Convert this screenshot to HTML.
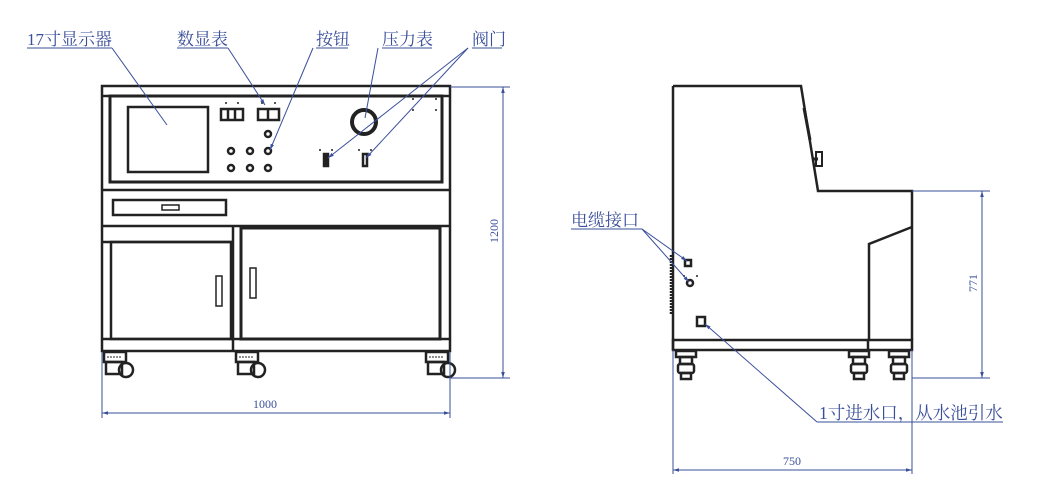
<!DOCTYPE html>
<html><head><meta charset="utf-8"><style>
html,body{margin:0;padding:0;background:#fff;}
svg{display:block;}
text{font-family:"Liberation Serif","Noto Serif CJK SC",serif;fill:#3a4f9a;}
</style></head><body>
<svg width="1045" height="504" viewBox="0 0 1045 504" xmlns="http://www.w3.org/2000/svg">
<defs>
<marker id="a" viewBox="0 0 10 10" refX="10" refY="5" markerWidth="6" markerHeight="6" orient="auto-start-reverse"><path d="M0,2 L10,5 L0,8 z" fill="#3a4f9a"/></marker>
</defs>
<g fill="none" stroke="#222" stroke-width="2.5">
<rect x="102" y="86" width="348" height="265"/>
<line x1="102" y1="96" x2="450" y2="96"/>
<rect x="110" y="96" width="332" height="86" stroke-width="3"/>
<line x1="102" y1="190" x2="450" y2="190"/>
<rect x="113" y="200" width="113" height="15"/>
<rect x="162" y="205" width="17" height="5" stroke-width="1.5"/>
<line x1="102" y1="226" x2="450" y2="226"/>
<line x1="102" y1="242" x2="232" y2="242"/>
<rect x="111" y="242" width="120" height="97"/>
<line x1="233" y1="226" x2="233" y2="351"/>
<rect x="241" y="228" width="199" height="111" stroke-width="3"/>
<line x1="102" y1="339" x2="450" y2="339"/>
<rect x="216" y="276" width="6" height="30" stroke-width="1.5"/>
<rect x="250" y="268" width="6" height="30" stroke-width="1.5"/>
<rect x="128" y="107" width="80" height="65"/>
<rect x="221" y="109" width="22" height="11" stroke-width="2.5"/>
<line x1="228" y1="109" x2="228" y2="120"/><line x1="235" y1="109" x2="235" y2="120"/>
<rect x="258" y="109" width="21" height="11" stroke-width="2.5"/>
<line x1="268" y1="109" x2="268" y2="120"/>
<circle cx="268" cy="134" r="3"/>
<circle cx="231" cy="151" r="3"/><circle cx="250" cy="151" r="3"/><circle cx="268" cy="151" r="3"/>
<circle cx="231" cy="168" r="3"/><circle cx="250" cy="168" r="3"/><circle cx="268" cy="168" r="3"/>
<circle cx="364" cy="122" r="12" stroke-width="4"/>
<rect x="324" y="154" width="4" height="12" fill="#222"/>
<rect x="363" y="154" width="4" height="12"/>
</g>
<g fill="#222">
<circle cx="226" cy="103" r="1"/><circle cx="238" cy="103" r="1"/><circle cx="262" cy="103" r="1"/><circle cx="275" cy="103" r="1"/>
<circle cx="320" cy="150" r="1"/><circle cx="332" cy="150" r="1"/><circle cx="359" cy="150" r="1"/><circle cx="371" cy="150" r="1"/>
<circle cx="413" cy="99" r="1"/><circle cx="436" cy="99" r="1"/><circle cx="413" cy="110" r="1"/><circle cx="436" cy="110" r="1"/>
</g>
<g fill="none" stroke="#222" stroke-width="2.5">
<g id="c"><rect x="104" y="352" width="22" height="10"/><rect x="106" y="362" width="16" height="12"/><circle cx="126" cy="370" r="7"/><line x1="107" y1="357" x2="122" y2="357" stroke-dasharray="2,1" stroke-width="1"/></g>
<use href="#c" x="132"/><use href="#c" x="322"/>
<path d="M673,86 L801,86 L818,191 L912,191 L912,340 M673,86 L673,350"/>
<path d="M869,340 L869,244 L912,227"/>
<rect x="673" y="340" width="239" height="10"/>
<line x1="868" y1="340" x2="868" y2="350"/>
<line x1="804" y1="108" x2="810" y2="140" stroke-width="3"/>
<rect x="816" y="152" width="6" height="14" stroke-width="2"/>
<line x1="812" y1="159" x2="818" y2="159" stroke-width="3"/>
<line x1="671" y1="255" x2="671" y2="315" stroke-dasharray="2,1"/>
<rect x="685" y="260" width="6" height="6"/>
<circle cx="690" cy="283" r="3"/>
<rect x="697" y="317" width="8" height="9"/>
<g id="s"><rect x="676" y="351" width="20" height="6"/><rect x="680" y="357" width="12" height="7"/><rect x="678" y="364" width="16" height="9" rx="2"/><rect x="681" y="373" width="10" height="6"/></g>
<use href="#s" x="173"/><use href="#s" x="213"/>
</g>
<g fill="#222"><circle cx="684" cy="276" r="1"/><circle cx="697" cy="276" r="1"/></g>
<g stroke="#3a4f9a" stroke-width="1" fill="none">
<line x1="27" y1="48" x2="112" y2="48"/><line x1="112" y1="48" x2="167" y2="125"/>
<line x1="177" y1="48" x2="228" y2="48"/><line x1="228" y1="48" x2="265" y2="105" marker-end="url(#a)"/>
<line x1="316" y1="48" x2="348" y2="48"/><line x1="313" y1="48" x2="270" y2="150" marker-end="url(#a)"/>
<line x1="382" y1="48" x2="432" y2="48"/><line x1="378" y1="48" x2="365" y2="118"/>
<line x1="472" y1="48" x2="502" y2="48"/>
<line x1="468" y1="48" x2="328" y2="158" marker-end="url(#a)"/>
<line x1="468" y1="48" x2="366" y2="158" marker-end="url(#a)"/>
<line x1="450" y1="87" x2="510" y2="87"/><line x1="450" y1="378" x2="510" y2="378"/>
<line x1="503" y1="87" x2="503" y2="378" marker-start="url(#a)" marker-end="url(#a)"/>
<line x1="102" y1="352" x2="102" y2="418"/><line x1="450" y1="352" x2="450" y2="418"/>
<line x1="102" y1="413" x2="450" y2="413" marker-start="url(#a)" marker-end="url(#a)"/>
<line x1="571" y1="229" x2="642" y2="229"/>
<line x1="642" y1="229" x2="687" y2="261" marker-end="url(#a)"/>
<line x1="642" y1="229" x2="689" y2="282" marker-end="url(#a)"/>
<line x1="817" y1="422" x2="1003" y2="422"/><line x1="817" y1="422" x2="705" y2="324" marker-end="url(#a)"/>
<line x1="912" y1="191" x2="990" y2="191"/><line x1="912" y1="378" x2="990" y2="378"/>
<line x1="982" y1="191" x2="982" y2="378" marker-start="url(#a)" marker-end="url(#a)"/>
<line x1="673" y1="350" x2="673" y2="474"/><line x1="912" y1="350" x2="912" y2="474"/>
<line x1="673" y1="470" x2="912" y2="470" marker-start="url(#a)" marker-end="url(#a)"/>
</g>
<text x="27" y="45" font-size="17">17寸显示器</text>
<text x="177" y="45" font-size="17">数显表</text>
<text x="316" y="45" font-size="17">按钮</text>
<text x="382" y="45" font-size="17">压力表</text>
<text x="472" y="45" font-size="17">阀门</text>
<text x="571" y="226" font-size="17">电缆接口</text>
<text x="819" y="419" font-size="17.5">1寸进水口，从水池引水</text>
<text x="265" y="408" font-size="12" text-anchor="middle">1000</text>
<text x="792" y="465" font-size="12" text-anchor="middle">750</text>
<text transform="translate(498,231) rotate(-90)" font-size="12" text-anchor="middle">1200</text>
<text transform="translate(977,283) rotate(-90)" font-size="12" text-anchor="middle">771</text>
</svg>
</body></html>
